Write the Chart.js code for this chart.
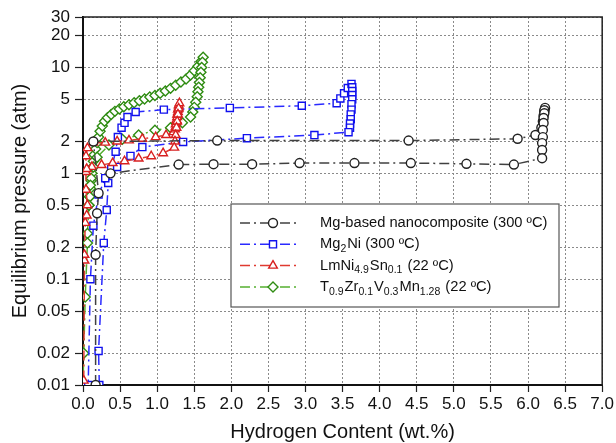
<!DOCTYPE html>
<html>
<head>
<meta charset="utf-8">
<script src="https://cdn.jsdelivr.net/npm/chart.js@4.4.0/dist/chart.umd.min.js"></script>
<style>
  html, body { margin: 0; padding: 0; background: #fff; }
  #wrap { width: 616px; height: 443px; }
</style>
</head>
<body>
<div id="wrap"><canvas id="pctChart" width="616" height="443"></canvas></div>
<script>
// tick labels
const xTicks = [0, 0.5, 1, 1.5, 2, 2.5, 3, 3.5, 4, 4.5, 5, 5.5, 6, 6.5, 7];
const yTicks = [0.01, 0.02, 0.05, 0.1, 0.2, 0.5, 1, 2, 5, 10, 20, 30];

// [wt.%, atm]
const mgNanoAbs = [[0.17,0.01],[0.17,0.17],[0.19,0.42],[0.21,0.65],[0.14,2.0],[1.81,2.04],[4.39,2.04],[5.86,2.12],[6.1,2.3],
  [6.18,2.7],[6.2,3.1],[6.21,3.5],[6.22,3.85],[6.23,4.15]];
const mgNanoDes = [[6.23,4.15],[6.22,3.95],[6.22,3.7],[6.21,3.33],[6.21,2.99],[6.2,2.57],[6.2,2.2],[6.19,1.93],[6.19,1.66],
  [6.19,1.39],[5.81,1.21],[5.17,1.23],[4.42,1.25],[3.66,1.25],[2.92,1.25],[2.28,1.22],[1.76,1.22],[1.29,1.21],[0.37,1.0]];

const mg2NiAbs = [[0.22,0.01],[0.21,0.021],[0.28,0.22],[0.32,0.45],[0.34,0.81],[0.38,1.1],[0.44,1.6],[0.47,2.2],[0.52,2.7],
  [0.56,3.0],[0.6,3.4],[0.71,3.8],[1.09,4.0],[1.98,4.15],[2.95,4.35],[3.42,4.6],[3.47,5.1],[3.52,5.7],[3.57,6.4],[3.62,7.0]];
const mg2NiDes = [[3.62,7.0],[3.63,6.5],[3.63,6.0],[3.63,5.5],[3.63,5.0],[3.62,4.5],[3.62,4.0],[3.61,3.6],[3.61,3.25],
  [3.6,2.95],[3.6,2.7],[3.58,2.45],[3.12,2.3],[2.21,2.15],[1.35,1.98],[0.8,1.77],[0.64,1.46],[0.46,1.15],[0.3,0.9],
  [0.21,0.63],[0.14,0.32],[0.1,0.1],[0.07,0.01]];

const lmNiAbs = [[0.01,0.011],[0.02,0.15],[0.02,0.17],[0.03,0.34],[0.05,0.4],[0.06,0.5],[0.04,0.7],[0.04,1.03],[0.04,1.45],
  [0.06,1.73],[0.14,1.95],[0.3,1.95],[0.46,2.0],[0.62,2.05],[0.8,2.12],[0.98,2.2],[1.12,2.3],[1.22,2.45],[1.24,2.6],
  [1.25,2.75],[1.25,2.9],[1.26,3.05],[1.26,3.2],[1.27,3.4],[1.27,3.6],[1.28,3.8],[1.28,4.0],[1.29,4.2],[1.29,4.4],[1.3,4.6]];
const lmNiDes = [[1.3,4.6],[1.29,4.1],[1.28,3.6],[1.27,3.1],[1.26,2.7],[1.25,2.3],[1.24,2.0],[1.23,1.75],[1.08,1.55],
  [0.92,1.45],[0.75,1.38],[0.56,1.3],[0.4,1.25],[0.25,1.2],[0.12,1.15],[0.05,1.1]];

const tiZrAbs = [[0.08,0.5],[0.09,0.6],[0.1,0.72],[0.11,0.85],[0.12,1.0],[0.13,1.15],[0.14,1.3],[0.15,1.5],[0.17,1.7],
  [0.19,1.95],[0.21,2.2],[0.23,2.5],[0.26,2.8],[0.29,3.1],[0.33,3.35],[0.38,3.6],[0.43,3.85],[0.49,4.05],[0.55,4.25],
  [0.62,4.45],[0.69,4.65],[0.76,4.85],[0.83,5.05],[0.9,5.25],[0.97,5.45],[1.04,5.7],[1.11,6.0],[1.18,6.35],[1.25,6.8],
  [1.32,7.3],[1.39,7.8],[1.45,8.5],[1.5,9.3],[1.55,10.3],[1.59,11.4],[1.62,12.5]];
const tiZrDes = [[1.62,12.5],[1.61,11.2],[1.6,10.0],[1.59,9.0],[1.58,8.0],[1.57,7.2],[1.56,6.5],[1.55,5.9],[1.54,5.3],
  [1.52,4.7],[1.5,4.2],[1.48,3.8],[1.45,3.4],[1.34,3.0],[1.18,2.7],[0.97,2.55],[0.75,2.3],[0.53,2.1],[0.35,1.85],
  [0.19,1.42],[0.14,1.15],[0.11,0.9],[0.1,0.77],[0.09,0.6],[0.08,0.5],[0.06,0.27],[0.06,0.22],[0.03,0.068],
  [0.01,0.02],[0.0,0.01]];

// legend text, [text, isSubscript]
const seriesNames = [
  [["Mg-based nanocomposite (300 ºC)", 0]],
  [["Mg", 0], ["2", 1], ["Ni (300 ºC)", 0]],
  [["LmNi", 0], ["4.9", 1], ["Sn", 0], ["0.1", 1], [" (22 ºC)", 0]],
  [["T", 0], ["0.9", 1], ["Zr", 0], ["0.1", 1], ["V", 0], ["0.3", 1], ["Mn", 0], ["1.28", 1], [" (22 ºC)", 0]]
];

const dashDot = [10, 4, 2, 4];
const styles = [
  { line: "#404040", point: "#222", shape: "circle", r: 4.5, order: 0 },
  { line: "#2a2aff", point: "#1010ee", shape: "rect", r: 5, order: 2 },
  { line: "#e03a30", point: "#d82020", shape: "triangle", r: 5, order: 1 },
  { line: "#55b030", point: "#2f8c12", shape: "rectRot", r: 5, order: 3 }
];
const seriesData = [
  mgNanoAbs.concat(mgNanoDes.slice(1)),
  mg2NiAbs.concat(mg2NiDes.slice(1)),
  lmNiAbs.concat(lmNiDes.slice(1)),
  tiZrAbs.concat(tiZrDes.slice(1))
];

const datasets = seriesData.map((pts, i) => ({
  data: pts.map(p => ({ x: p[0], y: p[1] })),
  showLine: true,
  borderColor: styles[i].line,
  borderWidth: 1.5,
  borderDash: dashDot,
  pointStyle: styles[i].shape,
  pointRadius: styles[i].r,
  pointBorderColor: styles[i].point,
  pointBackgroundColor: "#fff",
  pointBorderWidth: 1.4,
  order: styles[i].order
}));

const legendPlugin = {
  id: "pctLegend",
  afterDraw(chart) {
    const ctx = chart.ctx;
    const area = chart.chartArea;
    ctx.save();
    // frame top / right
    ctx.strokeStyle = "#222";
    ctx.lineWidth = 1.5;
    ctx.beginPath();
    ctx.moveTo(area.left, area.top);
    ctx.lineTo(area.right, area.top);
    ctx.lineTo(area.right, area.bottom);
    ctx.stroke();

    ctx.fillStyle = "#fff";
    ctx.fillRect(231, 204, 328, 103);
    ctx.strokeStyle = "#555";
    ctx.lineWidth = 1.2;
    ctx.strokeRect(231, 204, 328, 103);

    seriesNames.forEach((parts, i) => {
      const y = 223 + i * 21.3;
      const st = styles[i];
      ctx.strokeStyle = st.line;
      ctx.lineWidth = 1.5;
      ctx.setLineDash(dashDot);
      ctx.beginPath();
      ctx.moveTo(240, y);
      ctx.lineTo(298, y);
      ctx.stroke();
      ctx.setLineDash([]);
      ctx.fillStyle = "#fff";
      ctx.strokeStyle = st.point;
      ctx.lineWidth = 1.4;
      Chart.helpers.drawPoint(ctx, { pointStyle: st.shape, radius: st.r, rotation: 0, borderWidth: 1.4 }, 273, y);

      let x = 320;
      ctx.fillStyle = "#111";
      ctx.textBaseline = "middle";
      parts.forEach(([txt, sub]) => {
        ctx.font = sub ? "10.5px Arial, 'Liberation Sans'" : "14.7px Arial, 'Liberation Sans'";
        ctx.fillText(txt, x, sub ? y + 5 : y);
        x += ctx.measureText(txt).width + (sub ? 1 : 0);
      });
    });
    ctx.restore();
  }
};

new Chart(document.getElementById("pctChart"), {
  type: "scatter",
  data: { datasets },
  plugins: [legendPlugin],
  options: {
    responsive: false,
    animation: false,
    devicePixelRatio: 1,
    layout: { padding: { top: 17, right: 13, left: 0, bottom: 0 } },
    plugins: { legend: { display: false }, tooltip: { enabled: false } },
    scales: {
      x: {
        type: "linear",
        min: 0,
        max: 7,
        afterFit(scale) { scale.height = 58; },
        afterBuildTicks(scale) { scale.ticks = xTicks.map(v => ({ value: v })); },
        ticks: {
          color: "#111",
          font: { family: "Arial, 'Liberation Sans'", size: 17 },
          padding: 2,
          maxRotation: 0,
          autoSkip: false,
          callback: v => Number(v).toFixed(1)
        },
        grid: {
          color: "#8a8a8a",
          lineWidth: 1,
          tickLength: 7,
          tickColor: "#222",
          tickBorderDash: [],
          tickWidth: 1.2
        },
        border: { color: "#111", width: 2, dash: [2, 2] },
        title: {
          display: true,
          text: "Hydrogen Content (wt.%)",
          color: "#111",
          font: { family: "Arial, 'Liberation Sans'", size: 20, lineHeight: 1.1 },
          padding: { top: 0, bottom: 0 }
        }
      },
      y: {
        type: "logarithmic",
        min: 0.01,
        max: 30,
        afterFit(scale) { scale.width = 83; },
        afterBuildTicks(scale) { scale.ticks = yTicks.map(v => ({ value: v })); },
        ticks: {
          color: "#111",
          font: { family: "Arial, 'Liberation Sans'", size: 17 },
          padding: 5,
          autoSkip: false,
          callback: v => String(v)
        },
        grid: {
          color: "#8a8a8a",
          lineWidth: 1,
          tickLength: 8,
          tickColor: "#222",
          tickBorderDash: [],
          tickWidth: 1.2
        },
        border: { color: "#111", width: 2, dash: [2, 2] },
        title: {
          display: true,
          text: "Equilibrium pressure (atm)",
          color: "#111",
          font: { family: "Arial, 'Liberation Sans'", size: 20, lineHeight: 1.2 },
          padding: { top: 8, bottom: 0 }
        }
      }
    }
  }
});
</script>
</body>
</html>
